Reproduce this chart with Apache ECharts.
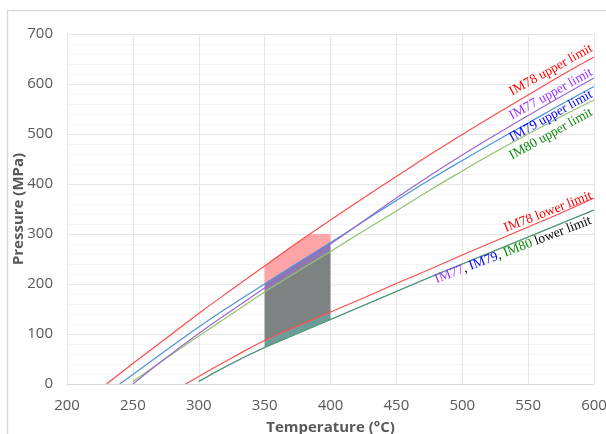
<!DOCTYPE html>
<html>
<head>
<meta charset="utf-8">
<script src="https://cdn.jsdelivr.net/npm/echarts@6/dist/echarts.min.js"></script>
<style>
html, body { margin: 0; padding: 0; background: #fff; }
#chart { width: 606px; height: 434px; }
</style>
</head>
<body>
<div id="chart"></div>
<script>
// temperatures (°C) and pressures (MPa)
var im78UpperT = [230, 250, 275, 300, 325, 350, 375, 400, 425, 450, 475, 500, 525, 550, 575, 600];
var im78UpperP = [0, 41, 91, 141, 189, 236, 283, 328, 372, 415, 458, 499, 539, 578, 617, 654];

var im77UpperT = [250, 275, 300, 325, 350, 375, 400, 425, 450, 475, 500, 525, 550, 575, 600];
var im77UpperP = [0, 52, 101, 147, 192, 237, 280, 326, 372, 416, 458, 498, 537, 575, 612];

var im79UpperT = [240, 250, 275, 300, 325, 350, 375, 400, 425, 450, 475, 500, 525, 550, 575, 600];
var im79UpperP = [0, 19, 67, 114, 158, 200, 242, 283, 325, 367, 408, 447, 485, 522, 559, 595];

var im80UpperT = [250, 275, 300, 325, 350, 375, 400, 425, 450, 475, 500, 525, 550, 575, 600];
var im80UpperP = [5, 51, 96, 140, 184, 225, 265, 306, 346, 387, 426, 464, 500, 535, 568];

var im78LowerT = [290, 300, 325, 350, 375, 400, 425, 450, 475, 500, 525, 550, 575, 600];
var im78LowerP = [0, 15, 52, 87, 116, 144, 172, 201, 229, 258, 286, 314, 342, 372];

// IM77, IM79, IM80 lower limits lie on top of each other
var groupLowerT = [300, 325, 350, 375, 400, 425, 450, 475, 500, 525, 550, 575, 600];
var groupLowerP = [5, 41, 73, 101, 129, 157, 185, 213, 240, 267, 294, 321, 348];

// shaded window 350-400 °C
var shadeT = [350, 360, 370, 380, 385, 390, 400];
var shadeBottom = [73, 84, 96, 107, 112, 118, 129];
var shadeRedLow = [87, 99, 110, 121, 127, 133, 144];
var shadeGreen = [184, 200, 217, 233, 241, 249, 265];
var shadeBlue = [200, 217, 234, 250, 258, 267, 283];
var shadeTop = [236, 255, 274, 292, 300, 300, 300];

var xTicks = [200, 600, 50];
var yTicks = [0, 700, 100];

function zip(a, b) {
    var out = [];
    for (var i = 0; i < a.length; i++) out.push([a[i], b[i]]);
    return out;
}

// bands: [lower, upper, colour]
var bands = [
    [shadeBottom, shadeRedLow, '#6d9c9a'],
    [shadeRedLow, shadeGreen, '#7f8282'],
    [shadeGreen, shadeBlue, '#8e7bae'],
    [shadeBlue, shadeTop, '#ffa5a7']
];

function lineSeries(name, t, p, color) {
    return {
        name: name,
        type: 'line',
        data: zip(t, p),
        smooth: true,
        showSymbol: false,
        lineStyle: { color: color, width: 1.2 },
        z: 3
    };
}

var serif = '"Liberation Serif", "Times New Roman", serif';
var fs = '13.5px ';

function label(x, y, deg, text, color, rich) {
    var st = {
        text: text, fill: color, font: fs + serif,
        align: 'center', verticalAlign: 'middle'
    };
    if (rich) st.rich = rich;
    return { type: 'text', x: x, y: y, rotation: deg * Math.PI / 180, z: 10, style: st };
}

var chart = echarts.init(document.getElementById('chart'));

chart.setOption({
    animation: false,
    grid: { left: 67, right: 12, top: 34, bottom: 50, outerBoundsMode: 'none' },
    xAxis: {
        type: 'value',
        min: xTicks[0], max: xTicks[1], interval: xTicks[2],
        name: 'Temperature (°C)',
        nameLocation: 'middle',
        nameGap: 36,
        nameTextStyle: { fontFamily: 'Open Sans', fontWeight: 'bold', fontSize: 15, color: '#595959' },
        axisLine: { lineStyle: { color: '#d9d9d9' } },
        axisTick: { show: false },
        axisLabel: { fontFamily: 'Open Sans', fontSize: 15, color: '#595959', margin: 14 },
        splitLine: { show: true, lineStyle: { color: '#e6e6e6' } }
    },
    yAxis: {
        type: 'value',
        min: yTicks[0], max: yTicks[1], interval: yTicks[2],
        name: 'Pressure (MPa)',
        nameLocation: 'middle',
        nameGap: 41,
        nameMoveOverlap: false,
        nameTextStyle: { fontFamily: 'Open Sans', fontWeight: 'bold', fontSize: 15, color: '#595959' },
        axisLine: { show: false },
        axisTick: { show: false },
        axisLabel: { fontFamily: 'Open Sans', fontSize: 15, color: '#595959', margin: 14 },
        splitLine: { show: true, lineStyle: { color: '#e6e6e6' } },
        minorTick: { show: false, splitNumber: 5 },
        minorSplitLine: { show: true, lineStyle: { color: '#f4f4f4' } }
    },
    series: [
        {
            type: 'custom',
            data: bands.map(function (b, i) { return [i]; }),
            z: 1,
            silent: true,
            renderItem: function (params, api) {
                var b = bands[params.dataIndex];
                var pts = [];
                for (var i = 0; i < shadeT.length; i++) pts.push(api.coord([shadeT[i], b[1][i]]));
                for (var j = shadeT.length - 1; j >= 0; j--) pts.push(api.coord([shadeT[j], b[0][j]]));
                return { type: 'polygon', shape: { points: pts }, style: { fill: b[2] } };
            }
        },
        lineSeries('IM78 upper limit', im78UpperT, im78UpperP, '#ff4d4d'),
        lineSeries('IM80 upper limit', im80UpperT, im80UpperP, '#92c26e'),
        lineSeries('IM79 upper limit', im79UpperT, im79UpperP, '#4a94da'),
        lineSeries('IM77 upper limit', im77UpperT, im77UpperP, '#9a68cc'),
        lineSeries('IM78 lower limit', im78LowerT, im78LowerP, '#ff4d4d'),
        lineSeries('IM79 lower limit', groupLowerT, groupLowerP, '#4a94da'),
        lineSeries('IM80 lower limit', groupLowerT, groupLowerP, '#5e9e66')
    ],
    graphic: [
        {
            type: 'rect', z: -10, silent: true,
            shape: { x: 7.5, y: 10.5, width: 640, height: 460 },
            style: { fill: 'none', stroke: '#d9d9d9', lineWidth: 1.5 }
        },
        label(551, 70, 29, 'IM78 upper limit', '#ff0000'),
        label(551, 94, 29, 'IM77 upper limit', '#9933ff'),
        label(551, 116, 29, 'IM79 upper limit', '#0000ff'),
        label(551, 134, 29, 'IM80 upper limit', '#0a8a0a'),
        label(548, 212, 21, 'IM78 lower limit', '#ff0000'),
        label(513, 250, 21, '{p|IM77}{k|, }{b|IM79}{k|, }{g|IM80}{k| lower limit}', '#000000', {
            p: { fill: '#9933ff', font: fs + serif },
            b: { fill: '#0000ff', font: fs + serif },
            g: { fill: '#0a8a0a', font: fs + serif },
            k: { fill: '#000000', font: fs + serif }
        })
    ]
});
</script>
</body>
</html>
